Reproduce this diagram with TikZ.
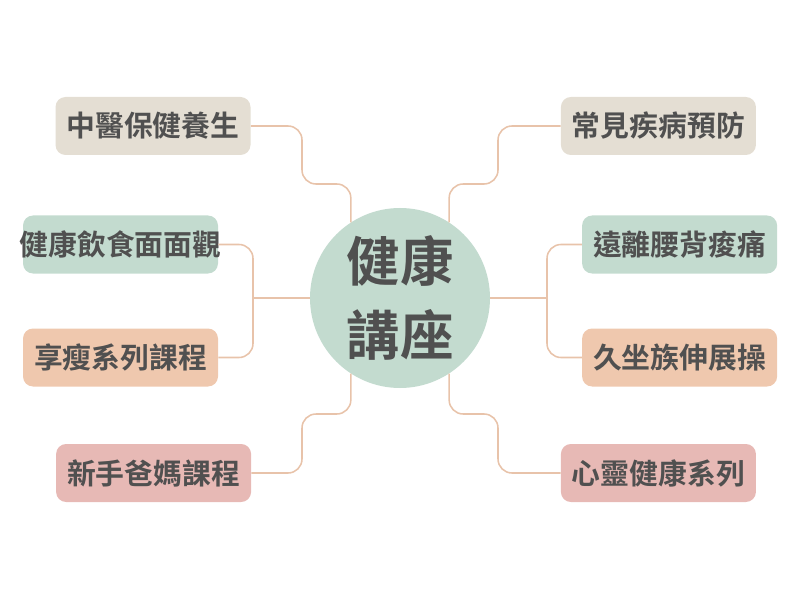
\documentclass[tikz,border=0pt]{standalone}
\usepackage{fontspec}
\setmainfont{Noto Sans CJK TC}[BoldFont={Noto Sans CJK TC Bold}]
\usepackage{xcolor}
\definecolor{talkgreen}{HTML}{C3DBCF}
\definecolor{talkbeige}{HTML}{E4DED3}
\definecolor{talkpeach}{HTML}{EFC8AE}
\definecolor{talkpink}{HTML}{E7B9B5}
\definecolor{talkline}{HTML}{E8C3AA}
\definecolor{talktext}{HTML}{505050}
\usetikzlibrary{positioning}

\begin{document}
\begin{tikzpicture}[
  topic/.style={draw=none,rounded corners=0.25cm,minimum width=4.875cm,minimum height=1.45cm,
    inner sep=0pt,text=talktext,font=\fontsize{20.5}{24}\selectfont\bfseries},
  hub/.style={circle,fill=talkgreen,minimum size=4.5cm,inner sep=0pt,text=talktext,align=center,
    font=\fontsize{38}{52}\selectfont\bfseries},
  link/.style={talkline,line width=1.1pt,rounded corners=0.35cm}]
  \useasboundingbox (0,0) rectangle (20,15);
  % Centre
  \node[hub] (hub) at (10,7.55) {健康\\講座};
  % Topics
  \foreach \name/\x/\y/\col/\txt in {
    tl/3.825/11.85/talkbeige/中醫保健養生,
    ml/3.0125/8.8875/talkgreen/健康飲食面面觀,
    ll/3.0125/6.0625/talkpeach/享瘦系列課程,
    bl/3.84/3.175/talkpink/新手爸媽課程,
    tr/16.46/11.85/talkbeige/常見疾病預防,
    mr/16.99/8.8875/talkgreen/遠離腰背痠痛,
    lr/16.99/6.0625/talkpeach/久坐族伸展操,
    br/16.46/3.175/talkpink/心靈健康系列}{
    \node[topic,fill=\col] (\name) at (\x,\y) {\makebox[4.8cm]{\txt}};
  }
  % Links on the left
  \draw[link] (tl.east) -| (7.55,10.4) -| (hub.123);
  \draw[link] (bl.east) -| (7.55,4.65) -| (hub.237);
  \draw[link] (ml.east) -| (6.325,7.55) |- (ll.east);
  \draw[link] (hub.west) -- (6.325,7.55);
  % Links on the right
  \draw[link] (tr.west) -| (12.45,10.4) -| (hub.57);
  \draw[link] (br.west) -| (12.45,4.65) -| (hub.303);
  \draw[link] (mr.west) -| (13.675,7.55) |- (lr.west);
  \draw[link] (hub.east) -- (13.675,7.55);
\end{tikzpicture}
\end{document}
